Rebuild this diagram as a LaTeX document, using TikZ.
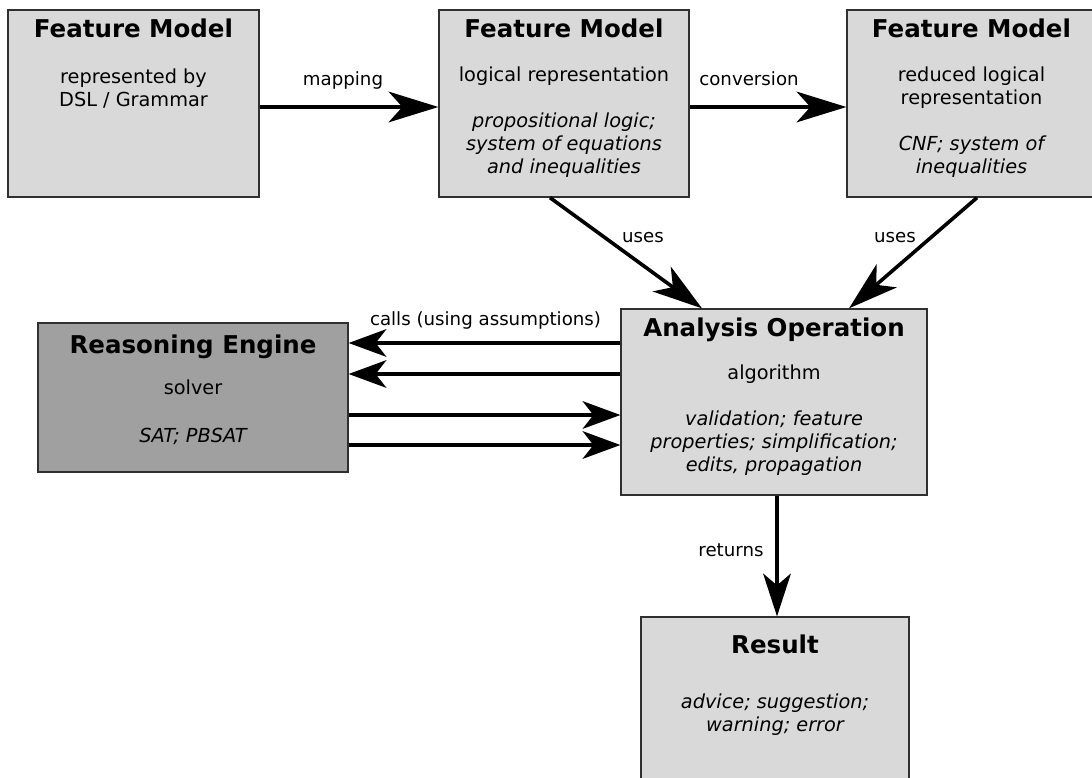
\documentclass[tikz,border=0pt]{standalone}
\usepackage{fontspec}
\setmainfont{DejaVu Sans}
\usetikzlibrary{arrows.meta,calc}
\definecolor{boxfill}{HTML}{D9D9D9}
\definecolor{enginefill}{HTML}{A0A0A0}
\definecolor{boxline}{HTML}{303030}
\begin{document}
\begin{tikzpicture}[x=1pt,y=-1pt,
  box/.style={draw=boxline,line width=1.3pt,fill=boxfill,inner sep=0pt},
  title/.style={font=\fontsize{24.5}{28}\selectfont\bfseries,anchor=base,inner sep=0pt},
  body/.style={font=\fontsize{19.3}{23}\selectfont,anchor=base,inner sep=0pt},
  note/.style={font=\fontsize{19.3}{23}\selectfont\itshape,anchor=base,inner sep=0pt},
  lbl/.style={font=\fontsize{18.2}{22}\selectfont,anchor=base,inner sep=0pt},
  link/.style={line width=3.6pt,-{Stealth[length=50pt,width=31pt,inset=14pt,line width=0pt]}},
  shortlink/.style={line width=3.6pt,-{Stealth[length=38pt,width=28pt,inset=11pt,line width=0pt]}},
  retlink/.style={line width=3.6pt,-{Stealth[length=43pt,width=28pt,inset=12pt,line width=0pt]}},
]
\path[use as bounding box] (0,0) rectangle (1092,778);
\fill[white] (0,0) rectangle (1092,778);
\clip (0,0) rectangle (1092,778);

% boxes
\node[box,minimum width=251pt,minimum height=187pt] (fm1) at (133.5,103.5) {};
\node[box,minimum width=250pt,minimum height=187pt] (fm2) at (564,103.5) {};
\node[box,minimum width=249pt,minimum height=187pt] (fm3) at (971.5,103.5) {};
\node[box,minimum width=306pt,minimum height=186pt] (ao) at (774,402) {};
\node[box,fill=enginefill,minimum width=310pt,minimum height=149pt] (re) at (193,397.5) {};
\node[box,minimum width=268pt,minimum height=200pt] (res) at (775,717) {};

% helper levels for the parallel connectors
\coordinate (rowTop) at (0,107);
\coordinate (yA) at (0,343);
\coordinate (yB) at (0,374);
\coordinate (yC) at (0,415);
\coordinate (yD) at (0,445);
\coordinate (xR) at (777,0);

% connectors
\draw[link] (fm1.east |- rowTop) -- (fm2.west |- rowTop);
\draw[link] (fm2.east |- rowTop) -- (fm3.west |- rowTop);
\draw[link] ($(fm2.south)+(-14,0)$) -- ($(ao.north)+(-72,0)$);
\draw[link] ($(fm3.south)+(5.5,0)$) -- ($(ao.north)+(75,0)$);
\draw[shortlink] (ao.west |- yA) -- (re.east |- yA);
\draw[shortlink] (ao.west |- yB) -- (re.east |- yB);
\draw[shortlink] (re.east |- yC) -- (ao.west |- yC);
\draw[shortlink] (re.east |- yD) -- (ao.west |- yD);
\draw[retlink] (ao.south -| xR) -- (res.north -| xR);

% connector labels
\node[lbl] (mapLbl) at (343,86) {mapping};
\node[lbl] (convLbl) at (749,86) {conversion};
\node[lbl] (usesA) at (643,243) {uses};
\node[lbl] (usesB) at (895,243) {uses};
\node[lbl] (callsLbl) at (485.5,325) {calls (using assumptions)};
\node[lbl] (retLbl) at (731,556) {returns};

% box texts
\node[title] (fm1t) at (133.5,38) {Feature Model};
\node[body] (fm1a) at (133.5,84) {represented by};
\node[body] (fm1b) at (133.5,107) {DSL / Grammar};

\node[title] (fm2t) at (564,38) {Feature Model};
\node[body] (fm2a) at (564,82) {logical representation};
\node[note] (fm2b) at (564,128) {propositional logic;};
\node[note] (fm2c) at (564,151) {system of equations};
\node[note] (fm2d) at (564,174) {and inequalities};

\node[title] (fm3t) at (971.5,38) {Feature Model};
\node[body] (fm3a) at (971.5,82) {reduced logical};
\node[body] (fm3b) at (971.5,105) {representation};
\node[note] (fm3c) at (971.5,151) {CNF; system of};
\node[note] (fm3d) at (971.5,174) {inequalities};

\node[title] (aot) at (774,336) {Analysis Operation};
\node[body] (aoa) at (774,379) {algorithm};
\node[note] (aob) at (774,425) {validation; feature};
\node[note] (aoc) at (774,448) {properties; simplification;};
\node[note] (aod) at (774,471) {edits, propagation};

\node[title] (ret) at (193,353) {Reasoning Engine};
\node[body] (rea) at (193,394) {solver};
\node[note] (reb) at (193,442) {SAT; PBSAT};

\node[title] (rest) at (775,653) {Result};
\node[note] (resa) at (775,708) {advice; suggestion;};
\node[note] (resb) at (775,731) {warning; error};
\end{tikzpicture}
\end{document}
